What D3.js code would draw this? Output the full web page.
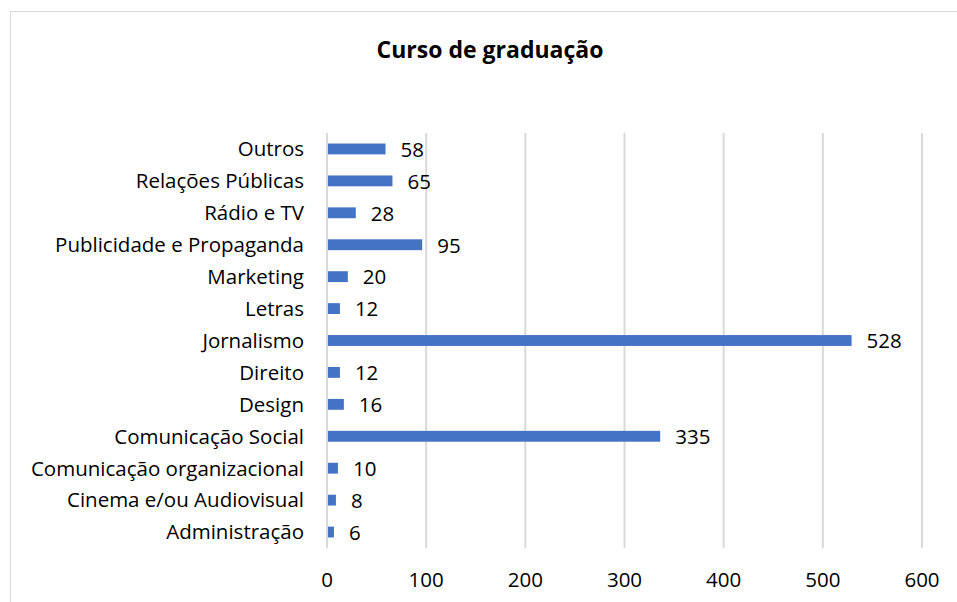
<!DOCTYPE html>
<html>
<head>
<meta charset="utf-8">
<script src="https://cdn.jsdelivr.net/npm/d3@7"></script>
<style>
  body { margin: 0; background: #fff; }
  svg { display: block; font-family: "Open Sans", Lato, sans-serif; }
</style>
</head>
<body>
<svg id="chart"></svg>
<script>
const width = 957;
const height = 602;

// data, top row first
const categories = [
  "Outros", "Relações Públicas", "Rádio e TV", "Publicidade e Propaganda",
  "Marketing", "Letras", "Jornalismo", "Direito", "Design",
  "Comunicação Social", "Comunicação organizacional",
  "Cinema e/ou Audiovisual", "Administração"
];
const values = [58, 65, 28, 95, 20, 12, 528, 12, 16, 335, 10, 8, 6];
const xTicks = [0, 100, 200, 300, 400, 500, 600];

const margin = { top: 133, right: 35, bottom: 54, left: 327 };
const fontSize = 20.5;

const svg = d3.select("#chart")
  .attr("width", width)
  .attr("height", height);

// chart border
svg.append("rect")
  .attr("x", 10.5).attr("y", 11.5)
  .attr("width", width).attr("height", height)
  .attr("fill", "none")
  .attr("stroke", "#d9d9d9");

svg.append("text")
  .attr("x", 490)
  .attr("y", 58)
  .attr("text-anchor", "middle")
  .attr("font-size", 23)
  .attr("font-weight", "bold")
  .text("Curso de graduação");

const x = d3.scaleLinear()
  .domain([0, 600])
  .range([margin.left, 922]);

const y = d3.scaleBand()
  .domain(categories)
  .range([margin.top, height - margin.bottom])
  .paddingInner(0.66)
  .paddingOuter(0.33);

// gridlines
svg.append("g")
  .selectAll("line")
  .data(xTicks)
  .join("line")
  .attr("x1", d => x(d)).attr("x2", d => x(d))
  .attr("y1", margin.top).attr("y2", height - margin.bottom)
  .attr("stroke", "#d9d9d9")
  .attr("stroke-width", 2);

// x tick labels
svg.append("g")
  .selectAll("text")
  .data(xTicks)
  .join("text")
  .attr("x", d => x(d))
  .attr("y", 587)
  .attr("text-anchor", "middle")
  .attr("font-size", fontSize)
  .attr("fill", "#000")
  .text(d => d);

// category labels
svg.append("g")
  .selectAll("text")
  .data(categories)
  .join("text")
  .attr("x", margin.left - 23)
  .attr("y", d => y(d) + y.bandwidth() / 2)
  .attr("dy", "0.36em")
  .attr("text-anchor", "end")
  .attr("font-size", fontSize)
  .text(d => d);

// bars
svg.append("g")
  .selectAll("rect")
  .data(values)
  .join("rect")
  .attr("x", x(0) + 1)
  .attr("y", (d, i) => y(categories[i]))
  .attr("width", d => x(d) - x(0))
  .attr("height", y.bandwidth())
  .attr("fill", "#4472c4");

// value labels
svg.append("g")
  .selectAll("text")
  .data(values)
  .join("text")
  .attr("x", d => x(d) + 16)
  .attr("y", (d, i) => y(categories[i]) + y.bandwidth() / 2)
  .attr("dy", "0.38em")
  .attr("font-size", fontSize)
  .text(d => d);
</script>
</body>
</html>
